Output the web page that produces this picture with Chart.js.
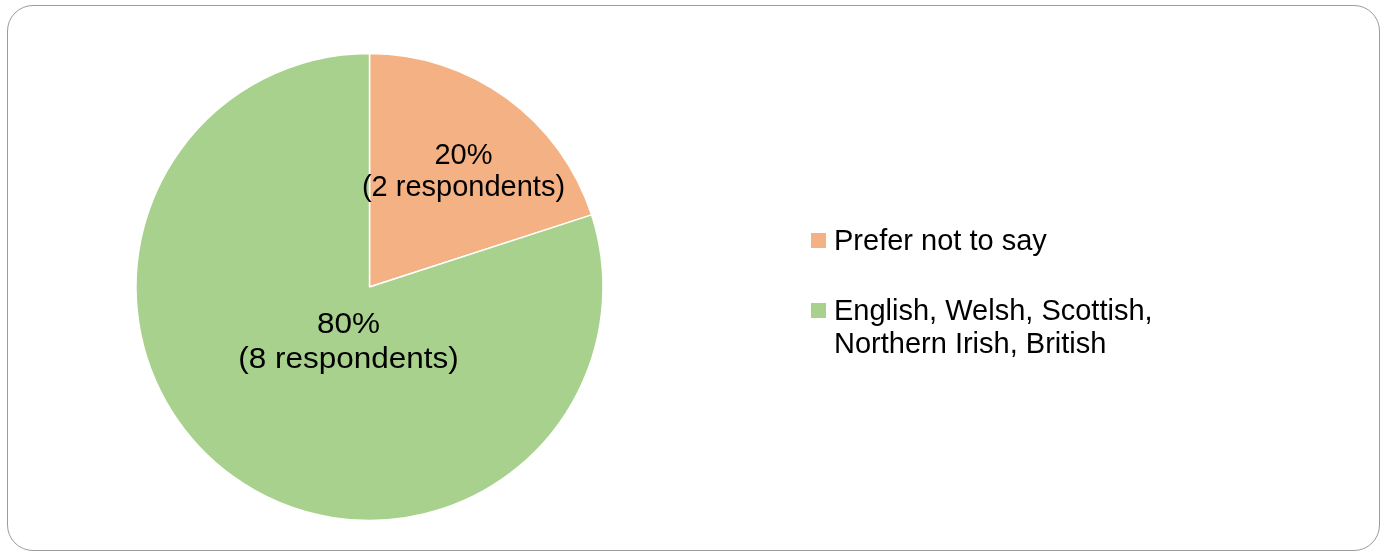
<!DOCTYPE html>
<html>
<head>
    <title>Ethnicity of respondents</title>
    <script src="https://cdn.jsdelivr.net/npm/chart.js"></script>
    <style>
        body {
            margin: 0;
            background-color: #ffffff;
            font-family: "Liberation Sans", Arial, sans-serif;
        }
        .frame {
            position: absolute;
            left: 7px;
            top: 5px;
            width: 1371px;
            height: 544px;
            border: 1.5px solid #9c9c9c;
            border-radius: 26px;
        }
        .chart-box {
            position: absolute;
            left: 0;
            top: 0;
            width: 1388px;
            height: 555px;
        }
        .legend {
            position: absolute;
            left: 811px;
            font-size: 29px;
            line-height: 33px;
            color: #000;
        }
        .legend .item {
            position: absolute;
            left: 0;
            white-space: nowrap;
        }
        .legend .swatch {
            position: absolute;
            left: 0;
            width: 15px;
            height: 15px;
        }
        .legend .text {
            position: absolute;
            left: 23px;
        }
    </style>
</head>
<body>

    <div class="frame"></div>
    <div class="chart-box">
        <canvas id="ethnicityPie" width="1388" height="555"></canvas>
    </div>
    <div class="legend" id="legend"></div>

    <script>
        // data
        const categories = ['Prefer not to say', 'English, Welsh, Scottish, Northern Irish, British'];
        const legendLines = [['Prefer not to say'], ['English, Welsh, Scottish,', 'Northern Irish, British']];
        const respondents = [2, 8];
        const sliceColors = ['#F4B183', '#A9D18E'];

        const total = respondents.reduce((a, b) => a + b, 0);

        // where each label sits relative to the pie centre (Excel "best fit")
        const labelStyles = [
            { dx: 94, dy: -123.5, gap: 32.5, size: 29, stretch: 1 },
            { dx: -21, dy: 46.3, gap: 34.7, size: 30, stretch: 1.05 }
        ];

        const sliceLabels = {
            id: 'sliceLabels',
            afterDatasetsDraw(chart) {
                const ctx = chart.ctx;
                const meta = chart.getDatasetMeta(0);
                meta.data.forEach((arc, i) => {
                    const st = labelStyles[i];
                    const pct = Math.round(respondents[i] / total * 100);
                    ctx.save();
                    ctx.translate(arc.x + st.dx, arc.y + st.dy);
                    ctx.scale(st.stretch, 1);
                    ctx.font = st.size + 'px "Liberation Sans", Arial, sans-serif';
                    ctx.fillStyle = '#000';
                    ctx.textAlign = 'center';
                    ctx.textBaseline = 'alphabetic';
                    ctx.fillText(pct + '%', 0, 0);
                    ctx.fillText('(' + respondents[i] + ' respondents)', 0, st.gap);
                    ctx.restore();
                });
            }
        };

        const ctx = document.getElementById('ethnicityPie').getContext('2d');
        new Chart(ctx, {
            type: 'pie',
            data: {
                labels: categories,
                datasets: [{
                    data: respondents,
                    backgroundColor: sliceColors,
                    borderColor: '#ffffff',
                    borderWidth: 1.5,
                    hoverOffset: 0,
                    radius: 233.5
                }]
            },
            options: {
                responsive: false,
                animation: false,
                layout: {
                    padding: { left: 136, right: 785, top: 53, bottom: 34 }
                },
                plugins: {
                    legend: { display: false },
                    tooltip: { enabled: false }
                }
            },
            plugins: [sliceLabels]
        });

        // legend built from the same arrays
        const legendTops = [224, 294];
        const legend = document.getElementById('legend');
        legendLines.forEach((lines, i) => {
            const item = document.createElement('div');
            item.className = 'item';
            item.style.top = legendTops[i] + 'px';
            const sw = document.createElement('div');
            sw.className = 'swatch';
            sw.style.top = '9px';
            sw.style.backgroundColor = sliceColors[i];
            const tx = document.createElement('div');
            tx.className = 'text';
            tx.innerHTML = lines.join('<br>');
            item.appendChild(sw);
            item.appendChild(tx);
            legend.appendChild(item);
        });
    </script>
</body>
</html>
